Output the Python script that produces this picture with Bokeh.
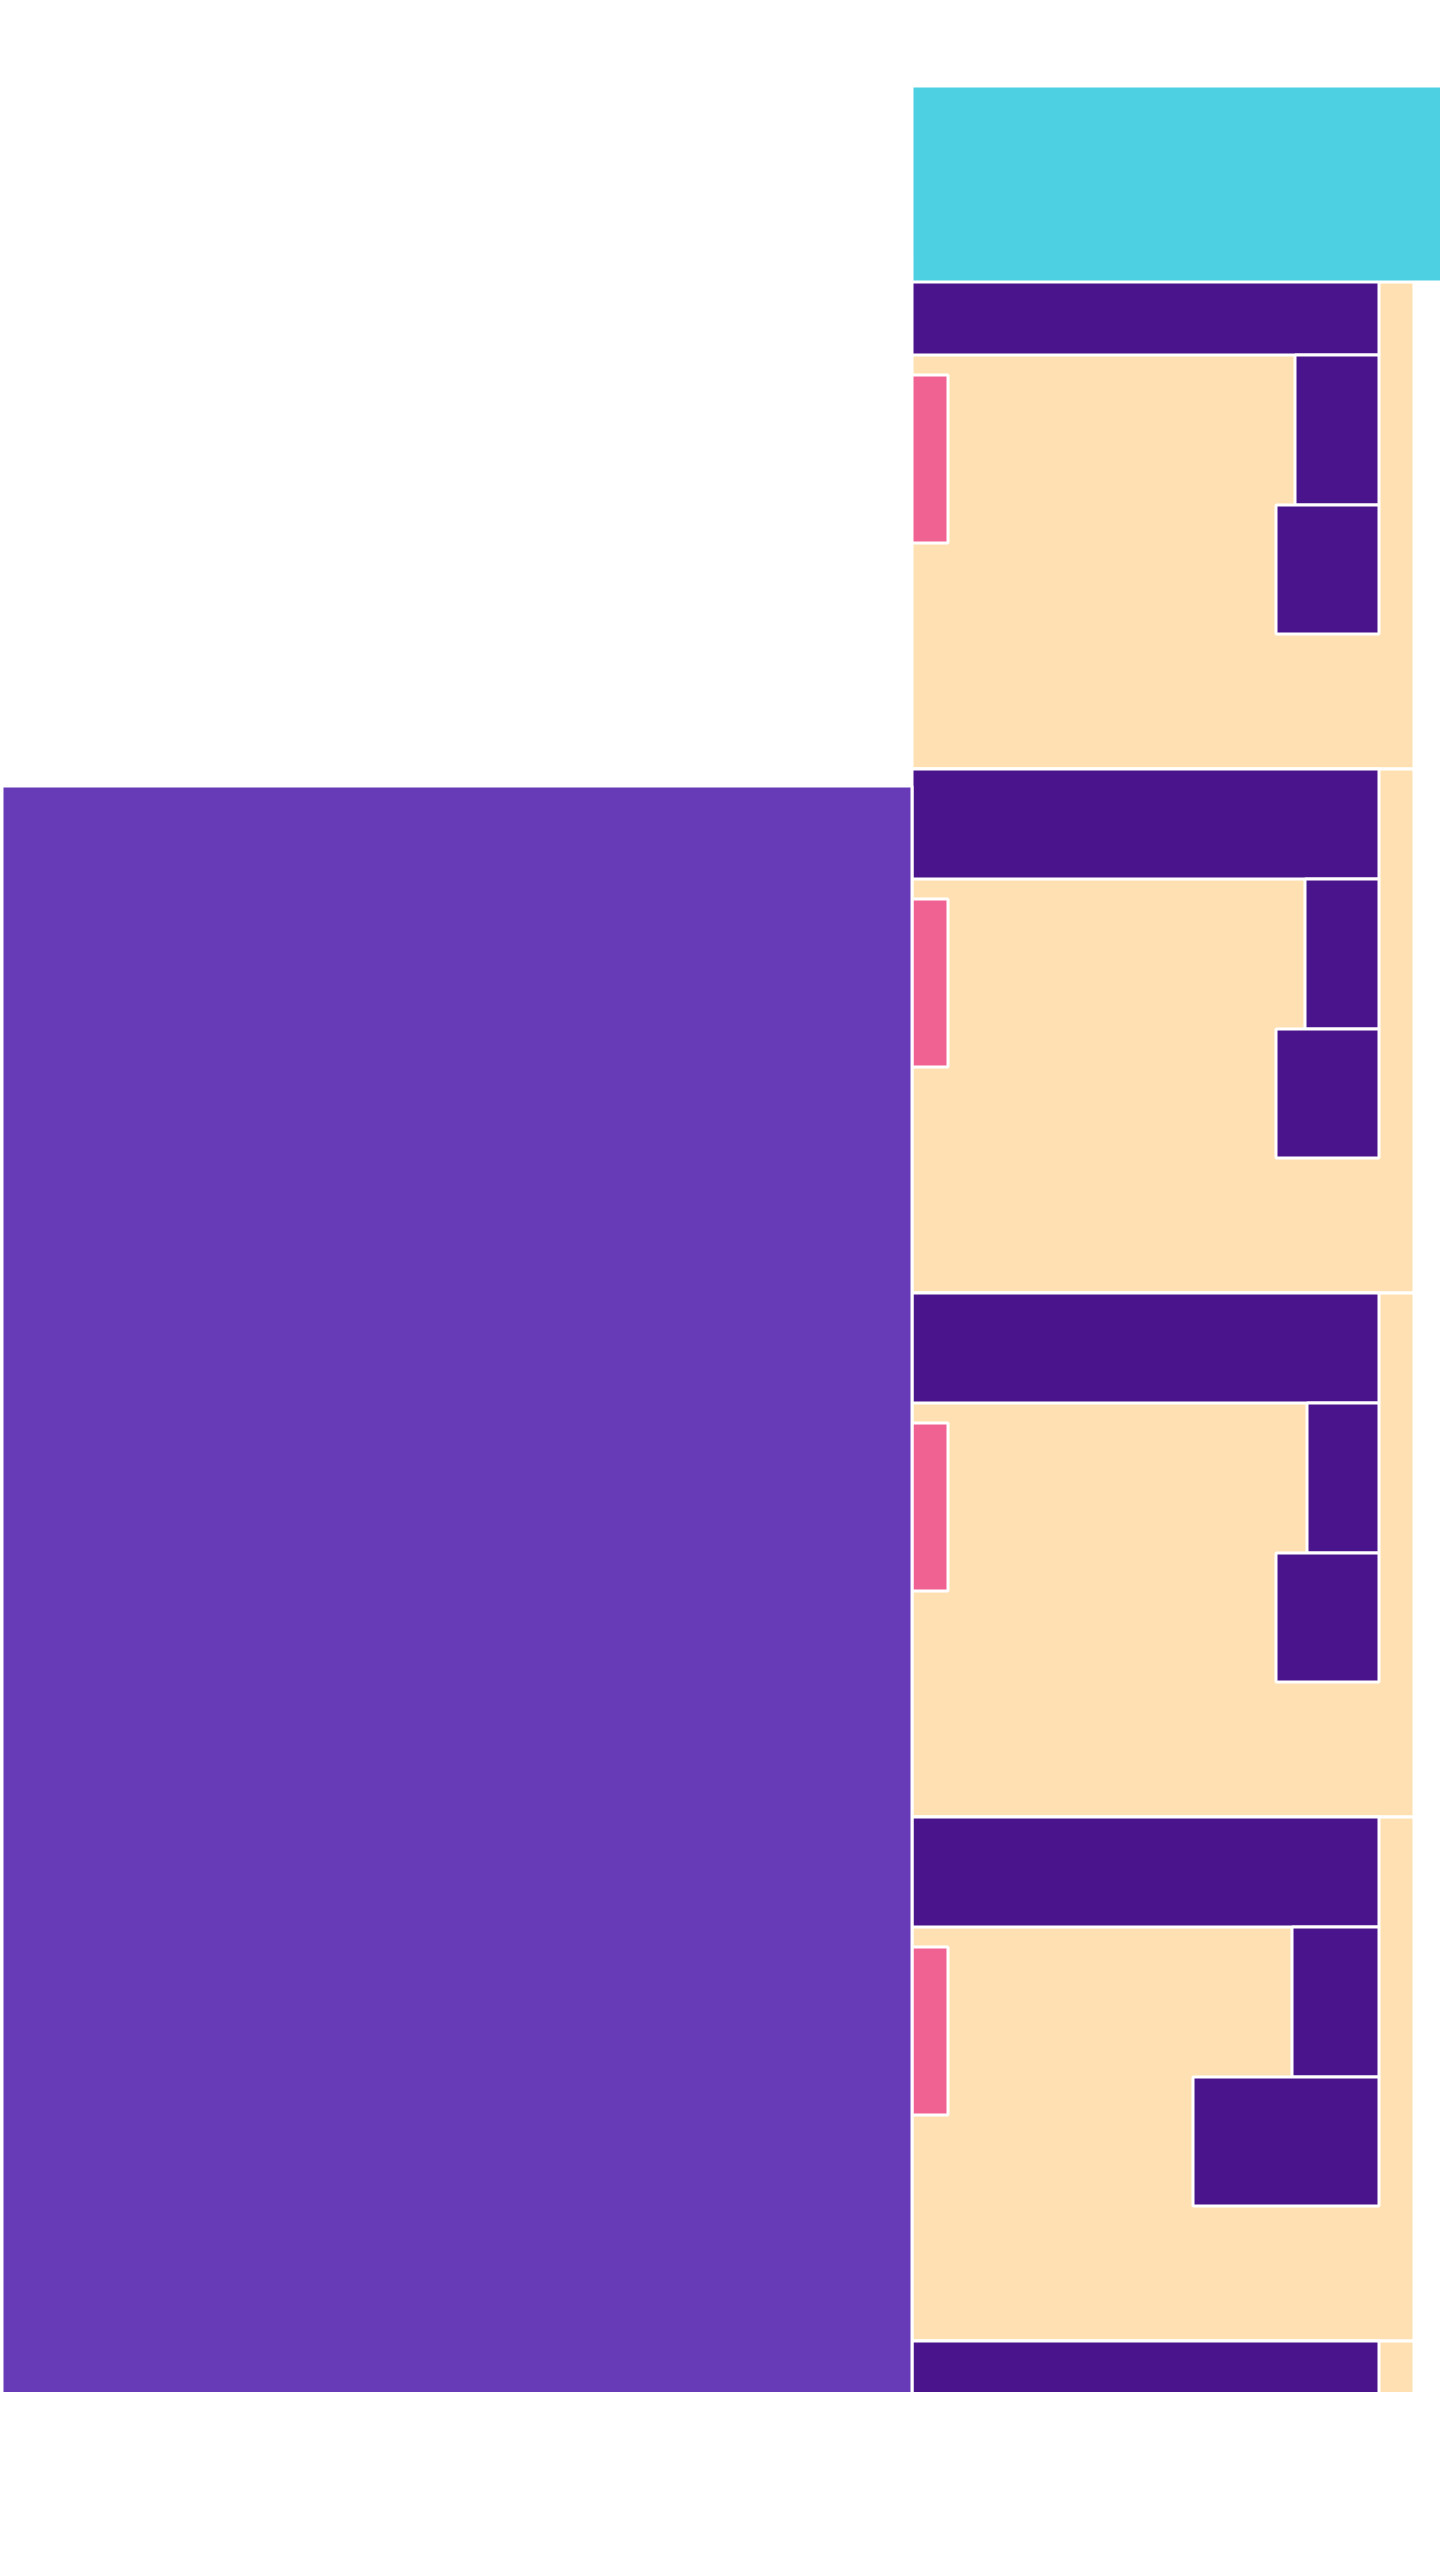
from bokeh.plotting import figure
from bokeh.models import Range1d
from bokeh.embed import file_html
from bokeh.resources import INLINE

# ---- data (abstract layout units, 1 unit = 1 screen px) ----
panel_tops = [244.5, 768.5, 1292.5, 1816.5, 2340.5]
panel_bottoms = [768.5, 1292.5, 1816.5, 2340.5, 2864.5]
bar_bottoms = [354.5, 878.5, 1402.5, 1926.5, 2450.5]

small_left = [1294.5, 1304.5, 1306.5, 1291.5]
small_top = [354.5, 878.5, 1402.5, 1926.5]
small_bottom = [504.5, 1028.5, 1552.5, 2076.5]

lower_left = [1275.5, 1275.5, 1275.5, 1192.5]
lower_top = [504.5, 1028.5, 1552.5, 2076.5]
lower_bottom = [633.5, 1157.5, 1681.5, 2205.5]

pink_top = [374.5, 898.5, 1422.5, 1946.5]
pink_bottom = [542.5, 1066.5, 1590.5, 2114.5]

panel_left = 911.5
panel_right = 1413.5
bar_right = 1378.5
pink_right = 947.5

big_left = [1.5]
big_right = [911.5]
big_top = [785.5]
big_bottom = [2410.0]

head_left = [911.5]
head_right = [1460.0]
head_top = [85.5]
head_bottom = [281.5]

PEACH = "#FFE0B2"
DARK = "#4A148C"
PURPLE = "#673AB7"
PINK = "#F06292"
CYAN = "#4DD0E1"

W, H = 1440, 2392
p = figure(width=W, height=H, x_range=Range1d(0, W), y_range=Range1d(H, 0),
           output_backend="svg", toolbar_location=None,
           x_axis_location=None, y_axis_location=None,
           min_border=0, min_border_left=0, min_border_right=0,
           min_border_top=0, min_border_bottom=0)
p.grid.visible = False
p.outline_line_color = None
p.background_fill_color = "white"
p.border_fill_color = "white"

n = len(panel_tops)
m = len(small_left)

p.quad(left=[panel_left] * n, right=[panel_right] * n, top=panel_tops, bottom=panel_bottoms,
       fill_color=PEACH, line_color="white", line_width=3)
p.quad(left=[panel_left] * n, right=[bar_right] * n, top=panel_tops, bottom=bar_bottoms,
       fill_color=DARK, line_color="white", line_width=3)
p.quad(left=small_left, right=[bar_right] * m, top=small_top, bottom=small_bottom,
       fill_color=DARK, line_color="white", line_width=3)
p.quad(left=lower_left, right=[bar_right] * m, top=lower_top, bottom=lower_bottom,
       fill_color=DARK, line_color="white", line_width=3)
p.quad(left=[panel_left] * m, right=[pink_right] * m, top=pink_top, bottom=pink_bottom,
       fill_color=PINK, line_color="white", line_width=3)
p.quad(left=big_left, right=big_right, top=big_top, bottom=big_bottom,
       fill_color=PURPLE, line_color="white", line_width=3)
p.quad(left=head_left, right=head_right, top=head_top, bottom=head_bottom,
       fill_color=CYAN, line_color="white", line_width=3)

open("out.html", "w").write(file_html(p, INLINE))
